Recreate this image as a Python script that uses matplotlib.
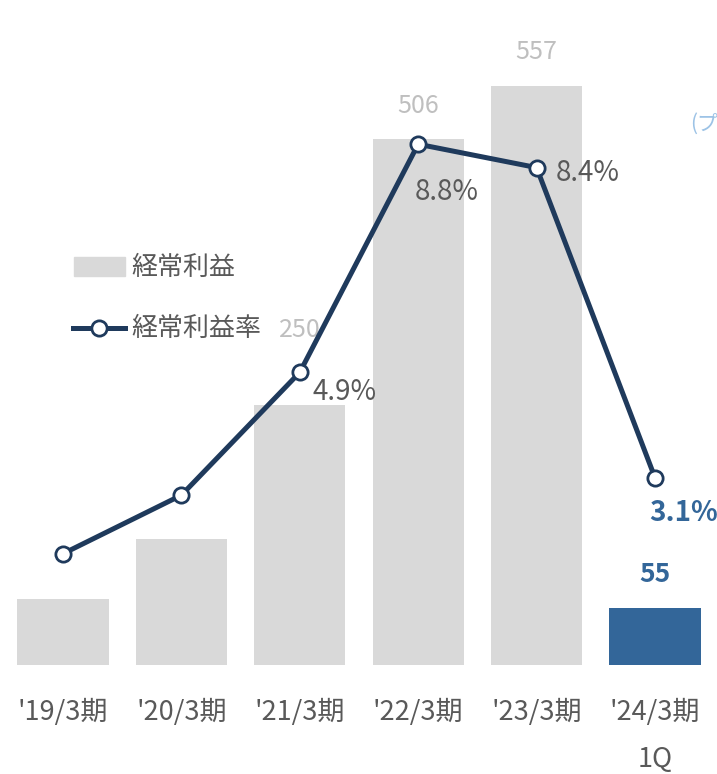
import numpy as np
import matplotlib
matplotlib.use("Agg")
import matplotlib.pyplot as plt

plt.rcParams["font.family"] = ["Noto Sans CJK JP", "DejaVu Sans"]

# データ
periods = ["'19/3期", "'20/3期", "'21/3期", "'22/3期", "'23/3期", "'24/3期\n1Q"]
profit = [63, 121, 250, 506, 557, 55]
rate = [1.8, 2.8, 4.9, 8.8, 8.4, 3.1]
profit_labels = ["", "", "250", "506", "557", "55"]
rate_labels = ["", "", "4.9%", "8.8%", "8.4%", "3.1%"]

gray_bar = "#d9d9d9"
blue = "#336699"
navy = "#1f3a5c"
text_gray = "#595959"
light_gray = "#bfbfbf"

fig = plt.figure(figsize=(7.17, 7.74), dpi=100)
ax = fig.add_axes([0, 0, 1, 1])
x = np.arange(len(periods))

colors = [gray_bar] * (len(profit) - 1) + [blue]
ax.bar(x, profit, width=0.77, color=colors, zorder=1)
ax.set_xlim(-0.532, 5.524)
ax.set_ylim(-104.9, 639.7)
ax.axis("off")

# 棒の値ラベル (offset pixels)
bar_off = [0, 0, 75, 33, 34, 33]
for i, (v, lab) in enumerate(zip(profit, profit_labels)):
    if not lab:
        continue
    last = i == len(profit) - 1
    ax.annotate(lab, (x[i], v), xytext=(0, bar_off[i]), textcoords="offset pixels",
                ha="center", va="center", fontsize=18 if not last else 19,
                color=blue if last else light_gray,
                fontweight="bold" if last else "normal")

# 経常利益率
ax2 = ax.twinx()
ax2.set_position([0, 0, 1, 1])
ax2.set_ylim(-1.966, 11.265)
ax2.axis("off")
ax2.plot(x, rate, color=navy, lw=3.6, marker="o", markersize=11,
         markerfacecolor="white", markeredgecolor=navy, markeredgewidth=2, zorder=3)

rate_off = [(0, 0), (0, 0), (45, -20), (29, -48), (51, -5), (29, -35)]
for i, (v, lab) in enumerate(zip(rate, rate_labels)):
    if not lab:
        continue
    last = i == len(rate) - 1
    ax2.annotate(lab, (x[i], v), xytext=rate_off[i], textcoords="offset pixels",
                 ha="center", va="center", fontsize=20,
                 color=blue if last else text_gray,
                 fontweight="bold" if last else "normal")

# x軸ラベル
for i, p in enumerate(periods):
    lines = p.split("\n")
    fig.text(x[i] * 118.4 / 717 + 63 / 717, 1 - 712 / 774, lines[0],
             ha="center", va="center", fontsize=19.5, color=text_gray)
    if len(lines) > 1:
        fig.text(x[i] * 118.4 / 717 + 63 / 717, 1 - 760 / 774, lines[1],
                 ha="center", va="center", fontsize=19.5, color=text_gray)

# 凡例
fig.patches.append(plt.Rectangle((74 / 717, 1 - 276 / 774), 51 / 717, 19 / 774,
                                 transform=fig.transFigure, color=gray_bar))
fig.text(131 / 717, 1 - 267 / 774, "経常利益", ha="left", va="center",
         fontsize=18.7, color=text_gray)
fig.lines.append(plt.Line2D([73 / 717, 125 / 717], [1 - 328 / 774, 1 - 328 / 774],
                            transform=fig.transFigure, color=navy, lw=3.6, zorder=3))
fig.lines.append(plt.Line2D([99 / 717], [1 - 328 / 774], transform=fig.transFigure,
                            color=navy, marker="o", markersize=11,
                            markerfacecolor="white", markeredgewidth=2, zorder=4))
fig.text(131 / 717, 1 - 328 / 774, "経常利益率", ha="left", va="center",
         fontsize=18.7, color=text_gray)

# 右端の切れた注記
fig.text(690 / 717, 1 - 124 / 774, "(プ", ha="left", va="center",
         fontsize=15, color="#9dc3e6")

fig.savefig("out.png", dpi=100)
